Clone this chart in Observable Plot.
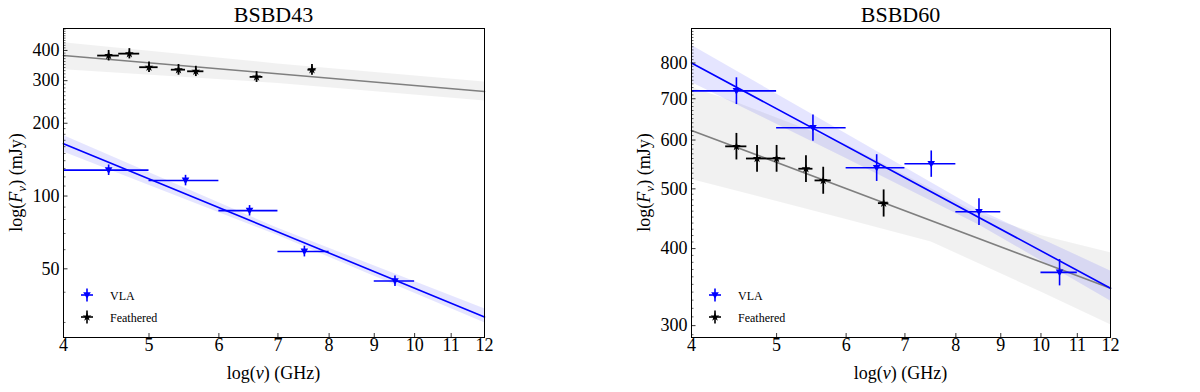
<!DOCTYPE html>
<html><head><meta charset="utf-8">
<script src="https://cdn.jsdelivr.net/npm/d3@7"></script>
<script src="https://cdn.jsdelivr.net/npm/@observablehq/plot@0.6"></script>
<style>
body{margin:0;background:#fff;}
#wrap{position:relative;width:1200px;height:392px;overflow:hidden;}
.panel{position:absolute;top:0;}
</style></head><body><div id="wrap"></div>
<script>
// ---------- shared ----------
const xTicks = [4, 5, 6, 7, 8, 9, 10, 11, 12];
const legendLabels = ["VLA", "Feathered"];

// ---------- BSBD43 ----------
const b43Title = "BSBD43";
const b43YTicks = [50, 100, 200, 300, 400];
const b43VlaNu = [4.5, 5.5, 6.5, 7.5, 9.5];
const b43VlaNuErr = [0.5, 0.5, 0.5, 0.5, 0.5];
const b43VlaFlux = [128, 116, 87, 59, 44.5];
const b43VlaFluxErr = [6.4, 5.8, 4.3, 3.0, 2.2];
const b43FeaNu = [4.5, 4.75, 5.0, 5.4, 5.65, 6.62, 7.65];
const b43FeaNuErr = [0.127, 0.13, 0.12, 0.1, 0.12, 0.11, 0.08];
const b43FeaFlux = [381, 388, 341, 333, 328, 311, 333];
const b43FeaFluxErr = [19, 19, 17, 17, 16, 16, 17];
const b43VlaFitNu = [4, 12];
const b43VlaFitFlux = [164.7, 31.6];
const b43VlaBandNu = [4, 7, 12];
const b43VlaBandLo = [152, 68.6, 29.9];
const b43VlaBandHi = [178, 73.5, 34.2];
const b43FeaFitNu = [4, 12];
const b43FeaFitFlux = [381, 270.7];
const b43FeaBandNu = [4, 7, 12];
const b43FeaBandLo = [333, 292, 247];
const b43FeaBandHi = [430, 352, 296];

// ---------- BSBD60 ----------
const b60Title = "BSBD60";
const b60YTicks = [300, 400, 500, 600, 700, 800];
const b60VlaNu = [4.5, 5.5, 6.5, 7.5, 8.5, 10.5];
const b60VlaNuErr = [0.5, 0.5, 0.5, 0.5, 0.5, 0.5];
const b60VlaFlux = [721, 628, 541, 549, 459, 366];
const b60VlaFluxErr = [36, 31, 27, 27, 23, 18];
const b60FeaNu = [4.5, 4.75, 5.0, 5.4, 5.65, 6.62];
const b60FeaNuErr = [0.125, 0.13, 0.12, 0.1, 0.12, 0.09];
const b60FeaFlux = [586, 560, 560, 539, 516, 474];
const b60FeaFluxErr = [29, 28, 28, 27, 26, 24];
const b60VlaFitNu = [4, 12];
const b60VlaFitFlux = [800, 345];
const b60VlaBandNu = [4, 6, 8.5, 12];
const b60VlaBandLo = [744, 560, 437, 329];
const b60VlaBandHi = [855, 614, 462, 368];
const b60FeaFitNu = [4, 12];
const b60FeaFitFlux = [622, 345];
const b60FeaBandNu = [4, 4.5, 6, 7.5, 8.5, 10, 12];
const b60FeaBandLo = [518, 496, 446, 410, 378, 340, 301];
const b60FeaBandHi = [730, 690, 590, 500, 455, 420, 394];

const FONT = "'Liberation Serif', 'Times New Roman', serif";
const BLUE = "#0000ff";

const triDown = {
  draw(ctx, size) {
    const r = Math.sqrt(size / Math.PI);
    ctx.moveTo(-r, -r * 0.75);
    ctx.lineTo(r, -r * 0.75);
    ctx.lineTo(0, r * 1.0);
    ctx.closePath();
  }
};

function rows(nu, f, dn, df) {
  return nu.map((v, i) => ({nu: v, f: f[i], dn: dn ? dn[i] : 0, df: df ? df[i] : 0}));
}
function band(nu, lo, hi) {
  return nu.map((v, i) => ({nu: v, lo: lo[i], hi: hi[i]}));
}

function panel(cfg) {
  const W = 600, H = 392;
  const fw = W - cfg.ml - cfg.mr, fh = H - cfg.mt - cfg.mb;
  const vla = rows(cfg.vlaNu, cfg.vlaFlux, cfg.vlaNuErr, cfg.vlaFluxErr);
  const fea = rows(cfg.feaNu, cfg.feaFlux, cfg.feaNuErr, cfg.feaFluxErr);
  const vlaFit = rows(cfg.vlaFitNu, cfg.vlaFitFlux);
  const feaFit = rows(cfg.feaFitNu, cfg.feaFitFlux);
  const vlaBand = band(cfg.vlaBandNu, cfg.vlaBandLo, cfg.vlaBandHi);
  const feaBand = band(cfg.feaBandNu, cfg.feaBandLo, cfg.feaBandHi);

  const svg = Plot.plot({
    width: W, height: H,
    marginLeft: cfg.ml, marginRight: cfg.mr, marginTop: cfg.mt, marginBottom: cfg.mb,
    x: {type: "log", domain: [4, 12], axis: null},
    y: {type: "log", domain: cfg.yDomain, axis: null},
    style: {fontFamily: FONT, fontSize: "18px", color: "black", background: "white", overflow: "visible"},
    marks: [
      Plot.areaY(feaBand, {x: "nu", y1: "lo", y2: "hi", fill: "#000000", fillOpacity: 0.055}),
      Plot.areaY(vlaBand, {x: "nu", y1: "lo", y2: "hi", fill: BLUE, fillOpacity: 0.1}),
      Plot.line(feaFit, {x: "nu", y: "f", stroke: "#7f7f7f", strokeWidth: 1.6}),
      Plot.line(vlaFit, {x: "nu", y: "f", stroke: BLUE, strokeWidth: 1.6}),
      Plot.ruleY(fea, {y: "f", x1: d => d.nu - d.dn, x2: d => d.nu + d.dn, stroke: "black", strokeWidth: 1.8}),
      Plot.ruleX(fea, {x: "nu", y1: d => d.f - d.df, y2: d => d.f + d.df, stroke: "black", strokeWidth: 1.8}),
      Plot.dot(fea, {x: "nu", y: "f", symbol: "star", r: 2.8, fill: "black", stroke: "none"}),
      Plot.ruleY(vla, {y: "f", x1: d => d.nu - d.dn, x2: d => d.nu + d.dn, stroke: BLUE, strokeWidth: 1.6}),
      Plot.ruleX(vla, {x: "nu", y1: d => d.f - d.df, y2: d => d.f + d.df, stroke: BLUE, strokeWidth: 1.6}),
      Plot.dot(vla, {x: "nu", y: "f", symbol: triDown, r: 3.8, fill: BLUE, stroke: "none"}),
      Plot.tickX(xTicks, {x: d => d, insetTop: fh - 4, stroke: "black", strokeWidth: 0.8}),
      Plot.tickY(cfg.yTicks, {y: d => d, insetRight: fw - 4.5, stroke: "black", strokeWidth: 0.8}),
      Plot.tickY(cfg.yMinor, {y: d => d, insetRight: fw - 2.5, stroke: "black", strokeWidth: 0.6}),
      Plot.frame({stroke: "black", strokeWidth: 1}),
      Plot.text(xTicks, {x: d => d, text: d => String(d), frameAnchor: "bottom", dy: 13,
        fontSize: 18, fontFamily: FONT, fill: "black", textAnchor: "middle"}),
      Plot.text(cfg.yTicks, {y: d => d, text: d => String(d), frameAnchor: "left", dx: -4,
        fontSize: 18, fontFamily: FONT, fill: "black", textAnchor: "end"})
    ]
  });

  const s = d3.select(svg);
  s.append("text").attr("x", cfg.ml + fw / 2).attr("y", 21.5)
    .attr("text-anchor", "middle").attr("font-size", 22).attr("font-family", FONT)
    .attr("fill", "black").text(cfg.title);

  const xl = s.append("text").attr("x", cfg.ml + fw / 2).attr("y", 379)
    .attr("text-anchor", "middle").attr("font-size", 18).attr("font-family", FONT).attr("fill", "black");
  xl.append("tspan").text("log(");
  xl.append("tspan").attr("font-style", "italic").text("ν");
  xl.append("tspan").text(") (GHz)");

  const yl = s.append("text")
    .attr("transform", `translate(${cfg.ml - 41},${cfg.mt + fh / 2}) rotate(-90)`)
    .attr("text-anchor", "middle").attr("font-size", 18).attr("font-family", FONT).attr("fill", "black");
  yl.append("tspan").text("log(");
  yl.append("tspan").attr("font-style", "italic").text("F");
  yl.append("tspan").attr("font-style", "italic").attr("font-size", 13).attr("dy", 4).text("ν");
  yl.append("tspan").attr("dy", -4).text(") (mJy)");

  // legend
  const lg = s.append("g").attr("font-family", FONT).attr("font-size", 12).attr("text-anchor", "start");
  const entries = [
    {label: legendLabels[0], color: BLUE, sym: "tri", y: 295},
    {label: legendLabels[1], color: "black", sym: "star", y: 317}
  ];
  const mx = cfg.ml + 24;
  entries.forEach(e => {
    lg.append("line").attr("x1", mx - 6).attr("x2", mx + 6).attr("y1", e.y).attr("y2", e.y)
      .attr("stroke", e.color).attr("stroke-width", 1.6);
    lg.append("line").attr("x1", mx).attr("x2", mx).attr("y1", e.y - 6.5).attr("y2", e.y + 6.5)
      .attr("stroke", e.color).attr("stroke-width", 1.6);
    const path = e.sym === "tri"
      ? d3.symbol(triDown, Math.PI * 3.8 * 3.8)()
      : d3.symbol(d3.symbolStar, Math.PI * 2.8 * 2.8)();
    lg.append("path").attr("d", path).attr("transform", `translate(${mx},${e.y})`).attr("fill", e.color);
    lg.append("text").attr("x", cfg.ml + 47).attr("y", e.y + 4.5).attr("text-anchor", "start")
      .attr("fill", "black").text(e.label);
  });
  return svg;
}

const wrap = document.getElementById("wrap");
const minor43 = [30, 40, 60, 70, 80, 90].concat(d3.range(110, 500, 10).filter(v => !b43YTicks.includes(v)));
const minor60 = d3.range(290, 910, 10).filter(v => !b60YTicks.includes(v));

const p1 = panel({
  title: b43Title, ml: 63, mr: 116, mt: 28, mb: 55, yDomain: [26, 493],
  yTicks: b43YTicks, yMinor: minor43,
  vlaNu: b43VlaNu, vlaFlux: b43VlaFlux, vlaNuErr: b43VlaNuErr, vlaFluxErr: b43VlaFluxErr,
  feaNu: b43FeaNu, feaFlux: b43FeaFlux, feaNuErr: b43FeaNuErr, feaFluxErr: b43FeaFluxErr,
  vlaFitNu: b43VlaFitNu, vlaFitFlux: b43VlaFitFlux, feaFitNu: b43FeaFitNu, feaFitFlux: b43FeaFitFlux,
  vlaBandNu: b43VlaBandNu, vlaBandLo: b43VlaBandLo, vlaBandHi: b43VlaBandHi,
  feaBandNu: b43FeaBandNu, feaBandLo: b43FeaBandLo, feaBandHi: b43FeaBandHi
});
const p2 = panel({
  title: b60Title, ml: 91, mr: 90, mt: 28, mb: 55, yDomain: [287, 910],
  yTicks: b60YTicks, yMinor: minor60,
  vlaNu: b60VlaNu, vlaFlux: b60VlaFlux, vlaNuErr: b60VlaNuErr, vlaFluxErr: b60VlaFluxErr,
  feaNu: b60FeaNu, feaFlux: b60FeaFlux, feaNuErr: b60FeaNuErr, feaFluxErr: b60FeaFluxErr,
  vlaFitNu: b60VlaFitNu, vlaFitFlux: b60VlaFitFlux, feaFitNu: b60FeaFitNu, feaFitFlux: b60FeaFitFlux,
  vlaBandNu: b60VlaBandNu, vlaBandLo: b60VlaBandLo, vlaBandHi: b60VlaBandHi,
  feaBandNu: b60FeaBandNu, feaBandLo: b60FeaBandLo, feaBandHi: b60FeaBandHi
});
const d1 = document.createElement("div"); d1.className = "panel"; d1.style.left = "0px"; d1.appendChild(p1);
const d2 = document.createElement("div"); d2.className = "panel"; d2.style.left = "600px"; d2.appendChild(p2);
wrap.appendChild(d1); wrap.appendChild(d2);
</script></body></html>
